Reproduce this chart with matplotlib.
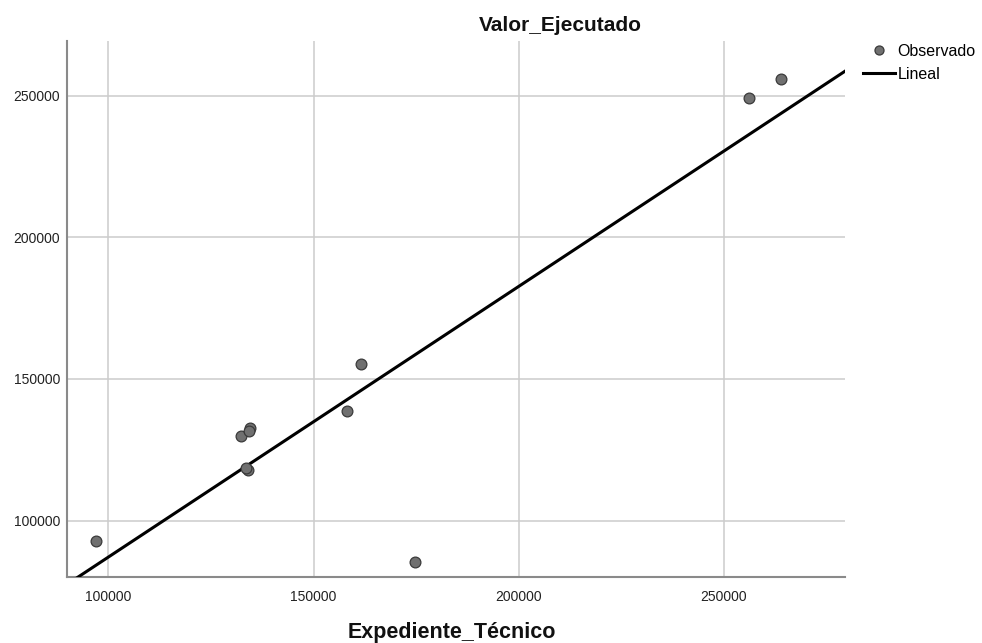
import numpy as np
import matplotlib
matplotlib.use("Agg")
import matplotlib.pyplot as plt
from matplotlib import font_manager
from matplotlib.lines import Line2D

# Data
expediente_tecnico = [97010, 132260, 134450, 134210, 134040, 133480, 158110, 161680, 174740, 256020, 263970]
valor_ejecutado = [92940, 130000, 132610, 131760, 117890, 118700, 138610, 155200, 85320, 249160, 255960]
x_ticks = [100000, 150000, 200000, 250000]
y_ticks = [100000, 150000, 200000, 250000]
title_text = "Valor_Ejecutado"
xlabel_text = "Expediente_Técnico"
legend_labels = ["Observado", "Lineal"]

names = {f.name for f in font_manager.fontManager.ttflist}
base_font = "Liberation Sans" if "Liberation Sans" in names else "DejaVu Sans"
plt.rcParams["font.family"] = [base_font, "DejaVu Sans"]

fig = plt.figure(figsize=(9.82, 6.43), dpi=100)
ax = fig.add_axes([67.3 / 982, 1 - 577.3 / 643, (845 - 67.3) / 982, (577.3 - 41) / 643])

x = np.array(expediente_tecnico, dtype=float)
y = np.array(valor_ejecutado, dtype=float)

ax.set_xlim(90000, 279500)
ax.set_ylim(80000, 269300)

# Linear fit
slope, intercept = np.polyfit(x, y, 1)
xl = np.linspace(85000, 285000, 200)
ax.plot(xl, slope * xl + intercept, color="black", linewidth=2.2, zorder=3,
        solid_capstyle="butt")

ax.scatter(x, y, s=60, facecolor="#707070", edgecolor="#3a3a3a", linewidth=0.9, zorder=4)

ax.set_xticks(x_ticks)
ax.set_yticks(y_ticks)
ax.set_xticklabels([str(v) for v in x_ticks])
ax.set_yticklabels([str(v) for v in y_ticks])
ax.tick_params(axis="both", length=0, labelsize=10, labelcolor="#222222")
ax.tick_params(axis="x", pad=9)
ax.tick_params(axis="y", pad=5)

ax.grid(True, color="#cccccc", linewidth=1.1, zorder=0)
ax.set_axisbelow(True)
for side in ["top", "right"]:
    ax.spines[side].set_visible(False)
for side in ["left", "bottom"]:
    ax.spines[side].set_color("#8a8a8a")
    ax.spines[side].set_linewidth(1.5)

fig.text(560 / 982, 1 - 30.7 / 643, title_text, ha="center", va="baseline",
         fontsize=15, fontweight="bold", color="#111111")
fig.text(452 / 982, 1 - 638.3 / 643, xlabel_text, ha="center", va="baseline",
         fontsize=15.5, fontweight="bold", color="#111111")

handles = [
    Line2D([], [], linestyle="none", marker="o", markersize=6.5,
           markerfacecolor="#707070", markeredgecolor="#3a3a3a", markeredgewidth=0.9),
    Line2D([], [], color="black", linewidth=2.2),
]
fig.legend(handles, legend_labels, loc="upper left", bbox_to_anchor=(863 / 982, 1 - 44 / 643),
           frameon=False, borderpad=0, borderaxespad=0, handlelength=2.0,
           handletextpad=0.15, labelspacing=0.5,
           prop={"size": 11.5})

fig.savefig("out.png", dpi=100)
